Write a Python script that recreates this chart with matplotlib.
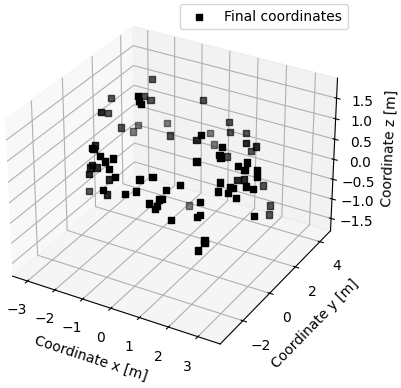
import numpy as np
import matplotlib
matplotlib.use('Agg')
from matplotlib import pyplot as plt

W, H = 401, 388

x = [-2.10,-3.06,-1.13,-2.18,-1.96,-0.92,-0.78,-2.38,-3.02,-2.55,-2.68,-2.76,-1.89,-1.15,0.37,1.62,1.70,-2.29,-1.06,-1.01,-0.79,-0.62,-0.44,-2.21,-2.08,-2.24,-2.23,-0.46,-0.26,-1.65,0.38,0.69,1.45,-2.92,-0.46,-1.59,0.12,0.39,1.14,1.10,1.02,0.81,1.03,1.00,-0.61,1.47,2.09,2.13,2.19,-0.53,0.35,0.47,0.92,-0.61,-0.40,2.24,1.71,2.01,1.20,0.58,2.24,2.28,2.99,2.78,2.98,3.31,3.36,1.94,1.77,2.46,1.80,2.74,2.83,3.15,3.34,2.47,2.74,2.98,2.14,2.19,3.57,2.48,2.50,2.39]
y = [3.40,2.34,0.55,2.98,3.03,0.21,0.08,0.39,2.04,2.06,3.50,3.30,4.06,2.83,1.67,-0.62,-1.09,-0.24,-2.68,-2.68,-2.67,-2.66,-2.47,-0.59,-0.55,-0.66,-0.79,-2.70,-2.71,-0.51,-2.34,-2.07,-1.72,0.45,-3.11,-0.78,-2.79,-2.57,-2.04,-2.24,-2.30,-2.53,-2.43,-2.51,3.14,-2.40,-1.62,-1.91,-1.83,3.99,4.12,3.99,4.27,4.71,4.61,-0.43,2.50,2.64,4.08,3.55,-0.61,-0.62,-0.24,-0.45,-0.40,-0.19,-0.28,1.91,1.78,-1.00,3.75,-0.89,-0.86,-0.61,-0.54,-1.17,-1.02,-0.96,3.56,3.40,-0.91,-2.13,-2.17,-2.39]
z = [1.32,0.95,1.84,0.99,0.91,1.84,1.84,1.26,0.66,0.39,0.03,-0.10,0.06,0.24,0.75,1.76,1.29,0.65,1.53,1.51,1.38,1.29,1.34,0.29,0.24,0.24,0.12,1.15,1.02,0.02,0.97,1.02,0.88,-0.82,0.79,-0.26,0.72,0.76,0.78,0.63,0.62,0.55,0.50,0.45,-1.53,0.26,0.58,0.31,0.34,0.91,0.49,0.30,0.28,-0.13,-0.35,1.55,0.69,0.63,-0.06,-0.16,1.40,1.36,1.27,1.21,1.14,1.13,1.02,0.02,0.01,0.92,-0.71,0.84,0.82,0.85,0.80,0.76,0.73,0.64,-1.09,-1.26,0.33,-0.10,-0.15,-0.28]
# how faded each marker looks, 0 is black, 3 is lightest
fade = [2,2,0,2,2,0,0,1,2,2,3,3,3,2,1,0,0,1,0,0,0,0,0,1,1,1,1,0,0,1,0,0,0,2,0,1,0,0,0,0,0,0,0,0,3,0,0,0,0,2,2,2,2,3,3,0,1,1,2,2,0,0,0,0,0,0,0,1,1,0,2,0,0,0,0,0,0,0,2,2,0,0,0,0]

fig = plt.figure(figsize=(W/100, H/100), dpi=100)
side = 369.6
ax = fig.add_axes([(169.5 - side/2)/W, 1 - (182.5 + side/2)/H, side/W, side/H], projection='3d')

colors = np.zeros((len(x), 4))
colors[:, 3] = 1 - 0.17 * np.array(fade)
ax.scatter(x, y, z, marker='s', c=colors, depthshade=False)
ax.scatter([], [], [], marker='s', c='k', label='Final coordinates')

ax.set_xlim(-3.55, 3.75)
ax.set_ylim(-3.63, 4.89)
ax.set_zlim(-1.82, 1.98)
ax.set_xlabel('Coordinate x [m]')
ax.set_ylabel('Coordinate y [m]')
ax.set_zlabel('Coordinate z [m]')
fig.legend(loc='upper right', bbox_to_anchor=(347.5/W, 1 - 4/H), borderaxespad=0)
fig.savefig('out.png', dpi=100)
